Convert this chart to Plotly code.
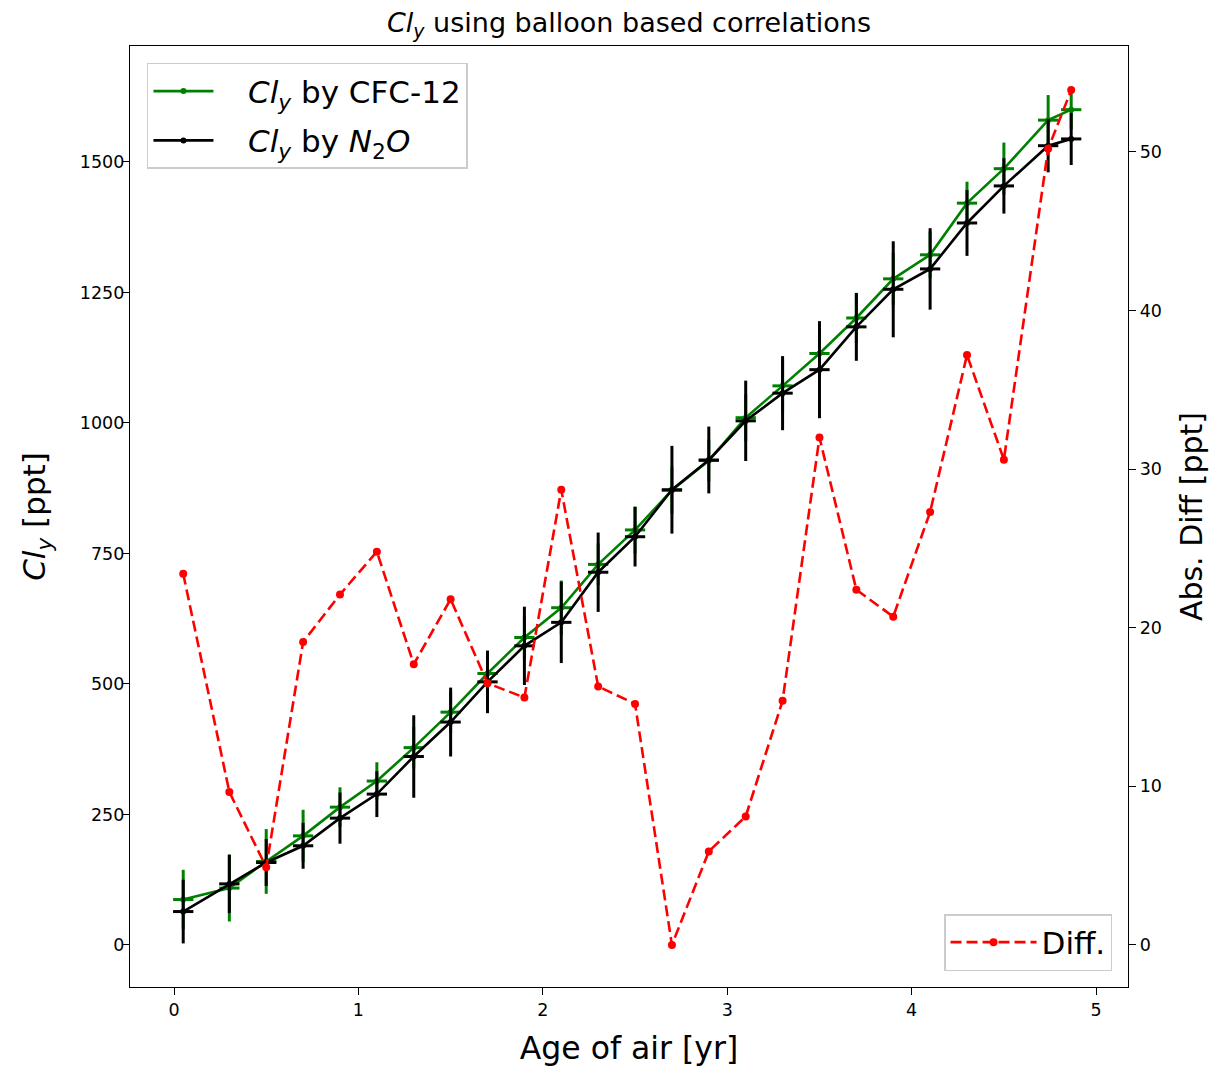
import plotly.graph_objects as go

# Data
age = [0.05, 0.3, 0.5, 0.7, 0.9, 1.1, 1.3, 1.5, 1.7, 1.9, 2.1, 2.3, 2.5,
       2.7, 2.9, 3.1, 3.3, 3.5, 3.7, 3.9, 4.1, 4.3, 4.5, 4.74, 4.865]
age_err = 0.055

cly_cfc12 = [87, 109, 160, 209, 264, 314, 378, 446, 520, 589, 646, 729, 795,
             871, 928, 1010, 1071, 1133, 1201, 1276, 1322, 1421, 1487, 1580, 1600]
cly_cfc12_err = [57, 64, 62, 50, 38, 36, 40, 40, 40, 40, 52, 40, 45,
                 45, 40, 45, 51, 45, 48, 50, 45, 41, 50, 48, 38]

cly_n2o = [64, 117, 158, 190, 243, 289, 361, 427, 504, 573, 618, 714, 782,
           872, 929, 1004, 1057, 1102, 1184, 1256, 1295, 1383, 1454, 1531, 1544]
cly_n2o_err = [61, 56, 45, 44, 49, 44, 79, 66, 60, 75, 78, 76, 57,
               84, 64, 77, 71, 93, 65, 92, 78, 63, 53, 51, 50]

abs_diff = [23.4, 9.65, 4.9, 19.1, 22.1, 24.8, 17.7, 21.8, 16.5, 15.6, 28.7, 16.3, 15.2,
            0.0, 5.9, 8.1, 15.4, 32.0, 22.4, 20.7, 27.3, 37.2, 30.6, 50.2, 53.9]

x_ticks = [0, 1, 2, 3, 4, 5]
y_ticks = [0, 250, 500, 750, 1000, 1250, 1500]
y2_ticks = [0, 10, 20, 30, 40, 50]

FONT = "DejaVu Sans"
GREEN = "#008000"
BLACK = "#000000"
RED = "#ff0000"
SP = "\u00a0\u00a0\u00a0"

fig = go.Figure()

fig.add_trace(go.Scatter(
    x=age, y=cly_cfc12, mode="lines+markers",
    name=SP + "<i>Cl</i><sub><i>y</i></sub> by CFC-12",
    line=dict(color=GREEN, width=2.6),
    marker=dict(color=GREEN, size=6),
    error_y=dict(type="data", array=cly_cfc12_err, color=GREEN, thickness=3, width=0),
    error_x=dict(type="constant", value=age_err, color=GREEN, thickness=3, width=0),
    legend="legend", legendgroup="g1",
))

fig.add_trace(go.Scatter(
    x=age, y=cly_n2o, mode="lines+markers",
    name=SP + "<i>Cl</i><sub><i>y</i></sub> by <i>N</i><sub>2</sub><i>O</i>",
    line=dict(color=BLACK, width=2.6),
    marker=dict(color=BLACK, size=6),
    error_y=dict(type="data", array=cly_n2o_err, color=BLACK, thickness=3, width=0),
    error_x=dict(type="constant", value=age_err, color=BLACK, thickness=3, width=0),
    legend="legend", legendgroup="g2",
))

fig.add_trace(go.Scatter(
    x=age, y=abs_diff, mode="lines+markers", name="Diff.",
    yaxis="y2",
    line=dict(color=RED, width=2.6, dash="11px,5px"),
    marker=dict(color=RED, size=8),
    legend="legend2",
))

axis_common = dict(
    showgrid=False, zeroline=False, showline=True, linecolor="black", linewidth=1.3,
    ticks="outside", ticklen=7, tickwidth=1.3, tickcolor="black", automargin=False,
    tickfont=dict(family=FONT, size=17.5, color="black"),
)

fig.update_layout(
    width=1212, height=1066,
    margin=dict(l=130, r=84, t=46, b=79, autoexpand=False),
    paper_bgcolor="white", plot_bgcolor="white",
    font=dict(family=FONT, color="black"),
    title=dict(
        text="<i>Cl</i><sub><i>y</i></sub> using balloon based correlations",
        x=0.5, xref="paper", xanchor="center",
        y=1 - 23 / 1066, yref="container", yanchor="middle",
        font=dict(family=FONT, size=27, color="black"),
    ),
    xaxis=dict(
        range=[-0.2386, 5.173], tickvals=x_ticks, mirror=True,
        title=dict(text="Age of air [yr]", font=dict(family=FONT, size=31.5), standoff=17),
        **axis_common,
    ),
    yaxis=dict(
        range=[-80.5, 1722], tickvals=y_ticks, mirror=True, ticklabelstandoff=-6,
        title=dict(text="<i>Cl</i><sub><i>y</i></sub> [ppt]", font=dict(family=FONT, size=31), standoff=24),
        **axis_common,
    ),
    yaxis2=dict(
        range=[-2.65, 56.68], tickvals=y2_ticks, overlaying="y", side="right",
        title=dict(text="Abs. Diff [ppt]", font=dict(family=FONT, size=30), standoff=20),
        **axis_common,
    ),
    legend=dict(
        x=0.017, y=0.982, xanchor="left", yanchor="top",
        bgcolor="rgba(255,255,255,0.8)", bordercolor="#cccccc", borderwidth=1.5,
        font=dict(family=FONT, size=31, color="black"),
        itemwidth=60, tracegroupgap=6, traceorder="grouped",
    ),
    legend2=dict(
        x=0.984, y=0.017, xanchor="right", yanchor="bottom",
        bgcolor="rgba(255,255,255,0.8)", bordercolor="#cccccc", borderwidth=1.5,
        font=dict(family=FONT, size=31, color="black"),
        itemwidth=86,
    ),
    showlegend=True,
)

fig.write_html("out.html")
